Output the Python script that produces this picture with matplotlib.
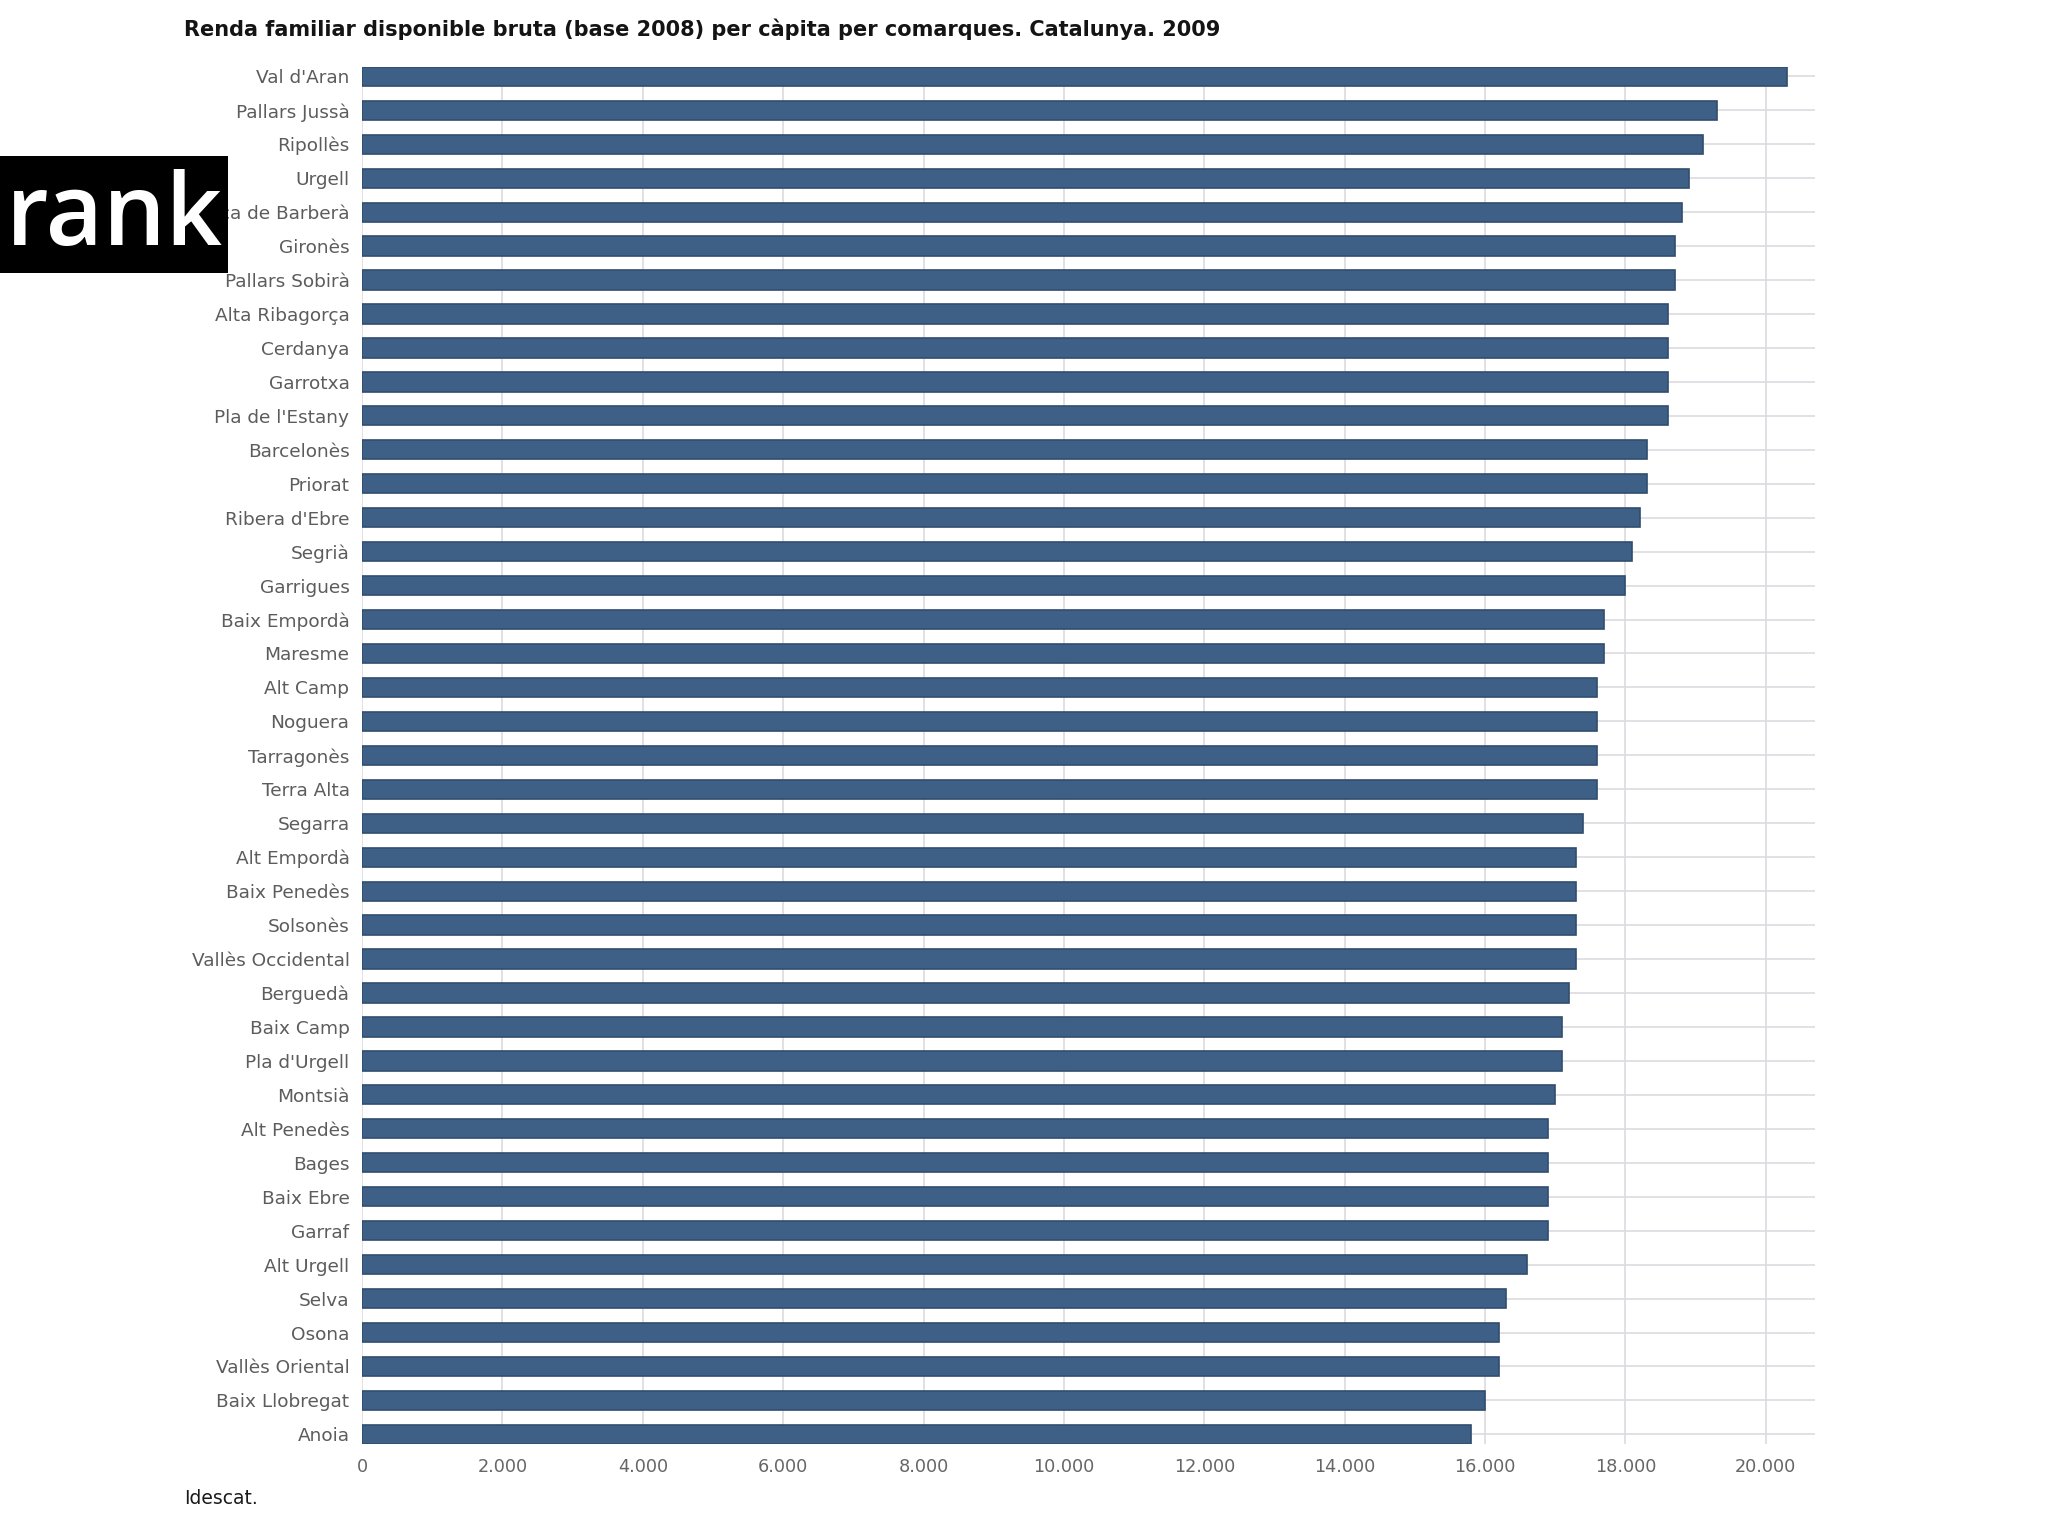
import matplotlib
matplotlib.use("Agg")
import matplotlib.pyplot as plt
from matplotlib.ticker import FuncFormatter
import numpy as np

comarques = [
    "Val d'Aran", "Pallars Jussà", "Ripollès", "Urgell", "Conca de Barberà",
    "Gironès", "Pallars Sobirà", "Alta Ribagorça", "Cerdanya", "Garrotxa",
    "Pla de l'Estany", "Barcelonès", "Priorat", "Ribera d'Ebre", "Segrià",
    "Garrigues", "Baix Empordà", "Maresme", "Alt Camp", "Noguera",
    "Tarragonès", "Terra Alta", "Segarra", "Alt Empordà", "Baix Penedès",
    "Solsonès", "Vallès Occidental", "Berguedà", "Baix Camp", "Pla d'Urgell",
    "Montsià", "Alt Penedès", "Bages", "Baix Ebre", "Garraf",
    "Alt Urgell", "Selva", "Osona", "Vallès Oriental", "Baix Llobregat",
    "Anoia",
]
renda = [
    20300, 19300, 19100, 18900, 18800,
    18700, 18700, 18600, 18600, 18600,
    18600, 18300, 18300, 18200, 18100,
    18000, 17700, 17700, 17600, 17600,
    17600, 17600, 17400, 17300, 17300,
    17300, 17300, 17200, 17100, 17100,
    17000, 16900, 16900, 16900, 16900,
    16600, 16300, 16200, 16200, 16000,
    15800,
]
x_ticks = [0, 2000, 4000, 6000, 8000, 10000, 12000, 14000, 16000, 18000, 20000]

title = "Renda familiar disponible bruta (base 2008) per càpita per comarques. Catalunya. 2009"
source = "Idescat."

W, H = 2048, 1536
fig = plt.figure(figsize=(W / 100, H / 100), dpi=100)
fig.patch.set_facecolor("white")

ax_left, ax_right = 362 / W, 1815 / W
ax_top, ax_bot = 1 - 66.7 / H, 1 - 1444 / H
ax = fig.add_axes([ax_left, ax_bot, ax_right - ax_left, ax_top - ax_bot])

ypos = np.arange(len(comarques))
bar_h = 0.568
ax.barh(ypos, renda, height=bar_h, color="#3f6086", edgecolor="#304d6e",
        linewidth=1.2, zorder=3)

ax.set_ylim(len(comarques) - 1 + bar_h / 2, -bar_h / 2)
ax.set_xlim(0, 20700)
ax.set_xticks(x_ticks)
ax.xaxis.set_major_formatter(FuncFormatter(lambda v, p: f"{int(v):,}".replace(",", ".")))
ax.set_yticks(ypos)
ax.set_yticklabels(comarques)

ax.grid(True, axis="both", color="#dcdce0", linewidth=1.2, zorder=0)
ax.set_axisbelow(True)
for s in ax.spines.values():
    s.set_visible(False)

ax.tick_params(axis="y", length=0, pad=9, labelsize=13.3, labelcolor="#5c5c5c")
ax.tick_params(axis="x", length=0, pad=10, labelsize=12.7, labelcolor="#666666")
for lbl in ax.get_yticklabels():
    lbl.set_family(["DejaVu Sans"])
for lbl in ax.get_xticklabels():
    lbl.set_family(["DejaVu Sans"])

fig.text(184 / W, 1 - 29 / H, title, ha="left", va="center", fontsize=15,
         fontweight="bold", color="#141414", family=["DejaVu Sans"])
fig.text(184 / W, 1 - 1499 / H, source, ha="left", va="center", fontsize=13.5,
         color="#1a1a1a", family=["DejaVu Sans"])

# black "rank" badge
badge = fig.add_axes([0, 1 - 273 / H, 228 / W, (273 - 156) / H])
badge.set_facecolor("black")
badge.set_xticks([])
badge.set_yticks([])
for s in badge.spines.values():
    s.set_visible(False)
badge.text(0.025, 0.24, "rank", transform=badge.transAxes, ha="left", va="baseline",
           fontsize=71, color="white", fontweight="semibold",
           family=["Open Sans", "Noto Sans", "DejaVu Sans"])

fig.savefig("out.png", dpi=100, facecolor="white")
